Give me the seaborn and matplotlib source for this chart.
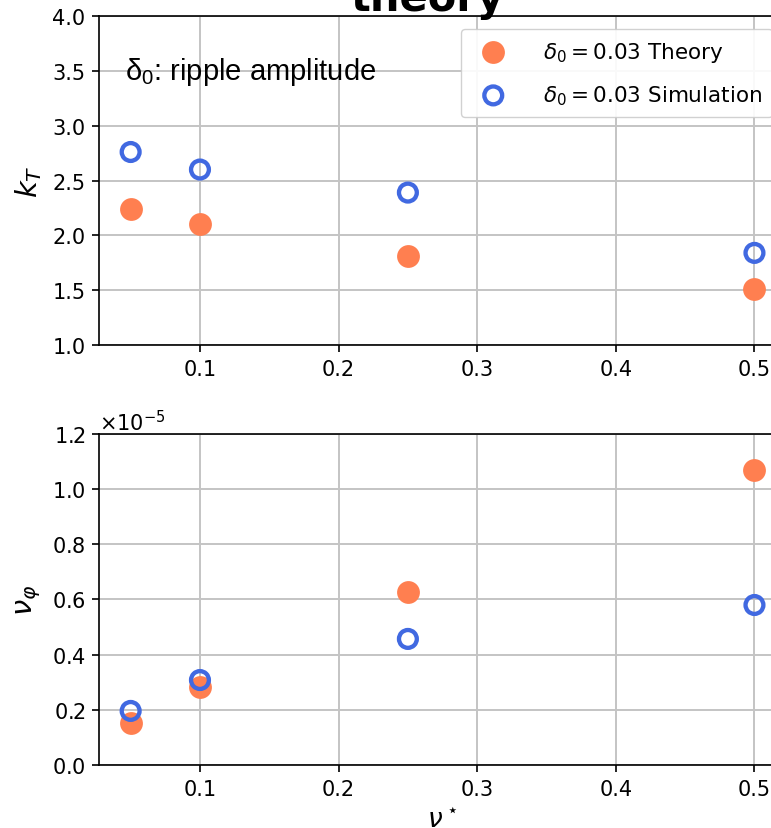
import matplotlib
matplotlib.use("Agg")
import matplotlib.pyplot as plt
from matplotlib.ticker import ScalarFormatter
import seaborn as sns
import pandas as pd

# collisionality values
nu_star = [0.05, 0.1, 0.25, 0.5]

# thermal-diffusion coefficient k_T
kT_theory = [2.24, 2.10, 1.81, 1.51]
kT_sim = [2.76, 2.60, 2.39, 1.84]

# toroidal damping rate nu_phi (units of 1e-5)
nuphi_theory = [0.152, 0.283, 0.627, 1.07]
nuphi_sim = [0.196, 0.308, 0.457, 0.580]

theory_label = r"$\delta_0 = 0.03$ Theory"
sim_label = r"$\delta_0 = 0.03$ Simulation"

sns.set_theme(style="ticks")
plt.rcParams["font.family"] = ["DejaVu Sans"]
plt.rcParams["axes.edgecolor"] = "black"
plt.rcParams["text.color"] = "black"
plt.rcParams["axes.labelcolor"] = "black"
plt.rcParams["xtick.color"] = "black"
plt.rcParams["ytick.color"] = "black"

orange = "#FF7F50"
blue = "#4169E1"

top = pd.DataFrame({"nu": nu_star, "theory": kT_theory, "sim": kT_sim})
bot = pd.DataFrame({"nu": nu_star,
                    "theory": [v * 1e-5 for v in nuphi_theory],
                    "sim": [v * 1e-5 for v in nuphi_sim]})

fig = plt.figure(figsize=(7.71, 8.29), dpi=100)
ax1 = fig.add_axes([0.129, 0.5826, 0.89, 0.3969])
ax2 = fig.add_axes([0.129, 0.0760, 0.89, 0.3993])

for ax, df in ((ax1, top), (ax2, bot)):
    sns.scatterplot(data=df, x="nu", y="theory", ax=ax, color=orange,
                    s=270, linewidth=0, label=theory_label, zorder=3)
    sns.scatterplot(data=df, x="nu", y="sim", ax=ax, facecolor="none",
                    edgecolor=blue, linewidth=3.1, s=165, label=sim_label, zorder=4)
    ax.set_xlim(0.0275, 0.5225)
    ax.set_xticks([0.1, 0.2, 0.3, 0.4, 0.5])
    ax.grid(True, color="#c4c4c4", linewidth=1.4)
    ax.tick_params(labelsize=15, length=5, width=1.2, direction="out", pad=5)
    for sp in ax.spines.values():
        sp.set_linewidth(1.2)

ax1.set_ylim(1.0, 4.0)
ax1.set_yticks([1.0, 1.5, 2.0, 2.5, 3.0, 3.5, 4.0])
ax1.set_xlabel("")
ax1.set_ylabel(r"$k_T$", fontsize=21, labelpad=6)
ax1.legend(loc="upper right", fontsize=15.5, frameon=True, borderpad=0.5,
           labelspacing=0.9, handletextpad=1.3, framealpha=0.9,
           markerscale=1.0, borderaxespad=0.6)
ax1.text(0.046, 3.5, r"$\mathregular{\delta_0}$: ripple amplitude",
         fontsize=21, family="Liberation Sans", va="center", ha="left")

ax2.set_ylim(0.0, 1.2e-5)
ax2.set_yticks([0.0, 0.2e-5, 0.4e-5, 0.6e-5, 0.8e-5, 1.0e-5, 1.2e-5])
fmt = ScalarFormatter(useMathText=True)
fmt.set_powerlimits((0, 0))
ax2.yaxis.set_major_formatter(fmt)
ax2.yaxis.get_offset_text().set_fontsize(15)
ax2.set_xlabel(r"$\nu^\star$", fontsize=19, labelpad=6)
ax2.set_ylabel(r"$\nu_\varphi$", fontsize=21, labelpad=6)
ax2.legend_.remove()

fig.text(0.555, 0.987, "theory", fontsize=30, fontweight="bold",
         ha="center", va="baseline")

fig.savefig("out.png", dpi=100)
